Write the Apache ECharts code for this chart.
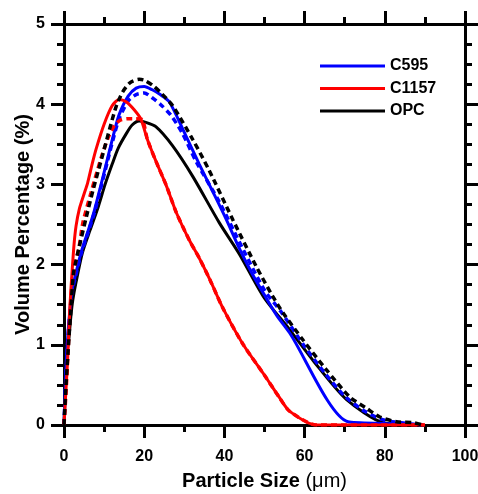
<!DOCTYPE html>
<html>
<head>
<meta charset="utf-8">
<script src="https://cdn.jsdelivr.net/npm/echarts@6/dist/echarts.min.js"></script>
<style>
html,body{margin:0;padding:0;background:#fff;}
#chart{width:478px;height:494px;}
</style>
</head>
<body>
<div id="chart"></div>
<script>
// Particle size (µm), volume percentage (%)
const xTicks = [0, 20, 40, 60, 80, 100];
const yTicks = [0, 1, 2, 3, 4, 5];
const legendNames = ['C595', 'C1157', 'OPC'];

const c595Solid = [[0,0],[0.5,0.7],[1,1.15],[1.5,1.45],[2,1.68],[3,1.9],[4.25,2.15],[6,2.42],[7.6,2.68],[9,2.95],[10.9,3.33],[12.5,3.65],[13.75,3.87],[16,4.1],[18,4.2],[20,4.22],[22,4.18],[24,4.12],[26.25,4.03],[30,3.65],[33.75,3.25],[37,2.92],[40.4,2.57],[43.75,2.2],[47,1.88],[50,1.62],[53,1.37],[56.25,1.15],[70.8,0.04],[80,0.02],[89.6,0]];
const c595Dashed = [[0,0],[0.5,0.65],[1,1.1],[2,1.65],[3,1.88],[4.25,2.13],[6,2.4],[7.6,2.65],[9,2.92],[10.9,3.3],[12.5,3.61],[13.75,3.82],[16,4.04],[18,4.12],[20,4.14],[22,4.08],[24,4.0],[26.7,3.86],[29.5,3.64],[33,3.28],[38.75,2.78],[43.75,2.28],[50,1.68],[54,1.42],[60,0.98],[65,0.65],[70,0.36],[75,0.17],[80,0.06],[89,0]];
const c1157Solid = [[0,0],[0.5,0.45],[0.9,0.81],[1.5,1.5],[2,1.9],[2.5,2.25],[3,2.48],[3.8,2.69],[5,2.88],[5.9,3.02],[7,3.25],[8,3.44],[10,3.75],[12,3.98],[13.75,4.06],[15.5,4.03],[17.5,3.93],[19.2,3.81],[20.8,3.56],[23,3.28],[25.4,3.0],[28,2.65],[31.3,2.3],[33.75,2.08],[36.5,1.8],[39.6,1.46],[44.6,1.01],[50,0.62],[53.75,0.34],[56.3,0.17],[63,0],[90,0]];
const c1157Dashed = [[0,0],[0.5,0.4],[1,0.9],[1.9,1.7],[2.8,2.0],[3.8,2.23],[4.7,2.52],[6.75,2.9],[9.25,3.33],[11,3.58],[12.5,3.73],[14,3.8],[15.8,3.82],[18,3.82],[19.5,3.81],[20.8,3.56],[23,3.28],[25.4,3.0],[28,2.65],[31.3,2.3],[33.75,2.08],[36.5,1.8],[39.6,1.46],[44.6,1.01],[50,0.62],[53.75,0.34],[56.3,0.17],[63,0],[90,0]];
const opcSolid = [[0,0],[0.3,0.4],[0.8,0.92],[1.2,1.07],[1.7,1.35],[2.2,1.56],[3,1.78],[4.6,2.15],[6.5,2.43],[8.4,2.7],[10.25,3.0],[12,3.25],[13.5,3.45],[15.5,3.63],[17,3.74],[18.75,3.79],[20,3.78],[22.9,3.72],[27.1,3.48],[32.1,3.1],[38.75,2.52],[43.75,2.13],[50,1.58],[56.25,1.19],[62.5,0.78],[70.4,0.32],[79.6,0.03],[89.6,0]];
const opcDashed = [[0,0],[0.5,0.5],[1.2,1.06],[1.6,1.35],[2.4,1.9],[3.7,2.2],[5.6,2.6],[7.2,2.92],[8.5,3.16],[9.7,3.38],[11.7,3.75],[13,3.97],[14.6,4.15],[16.5,4.27],[18.75,4.31],[20,4.3],[22,4.24],[24,4.15],[27.1,3.98],[32.1,3.56],[36.25,3.17],[42.1,2.56],[47.9,1.98],[52.1,1.6],[54.6,1.4],[59.6,1.06],[65.4,0.69],[71.25,0.35],[75.4,0.21],[78.75,0.1],[82.9,0.04],[87,0.03],[89.5,0]];

const FONT = '"Liberation Sans", Arial, sans-serif';
const chart = echarts.init(document.getElementById('chart'), null, {renderer: 'canvas'});

function axisCommon(extra) {
  return Object.assign({
    type: 'value',
    axisLine: {show: true, onZero: false, lineStyle: {color: '#000', width: 3}},
    axisTick: {show: true, inside: false, length: 13, lineStyle: {color: '#000', width: 3}},
    splitLine: {show: false},
    minorSplitLine: {show: false}
  }, extra);
}

const labelStyle = {fontFamily: FONT, fontSize: 16, fontWeight: 'bold', color: '#000'};

function line(name, data, color, dashed, width, z) {
  return {
    name: name, type: 'line', data: data, showSymbol: false, symbol: 'none',
    smooth: 0.25, z: z,
    lineStyle: {color: color, width: width, type: dashed ? [6, 4] : 'solid'},
    itemStyle: {color: color},
    xAxisIndex: 0, yAxisIndex: 0
  };
}

chart.setOption({
  animation: false,
  backgroundColor: '#fff',
  grid: {left: 64, right: 13, top: 24, bottom: 69, containLabel: false, outerBoundsMode: 'none'},
  legend: {
    data: legendNames.map(n => ({name: n, icon: 'rect'})),
    orient: 'vertical',
    left: 315, top: 53,
    itemWidth: 65, itemHeight: 3, itemGap: 6.5,
    textStyle: {fontFamily: FONT, fontSize: 16, fontWeight: 'bold', color: '#000'}
  },
  xAxis: [
    axisCommon({
      min: 0, max: 100, interval: 20, position: 'bottom',
      minorTick: {show: true, splitNumber: 2, length: 7, lineStyle: {color: '#000', width: 3}},
      axisLabel: Object.assign({margin: 24, formatter: v => (xTicks.indexOf(v) >= 0 ? String(v) : '')}, labelStyle),
      name: '{b|Particle Size }{n|(\u03bcm)}',
      nameLocation: 'middle', nameGap: 46, nameMoveOverlap: false,
      nameTextStyle: {
        rich: {
          b: {fontFamily: FONT, fontSize: 20, fontWeight: 'bold', color: '#000'},
          n: {fontFamily: FONT, fontSize: 20, fontWeight: 'normal', color: '#000'}
        }
      }
    }),
    axisCommon({
      min: 0, max: 100, interval: 20, position: 'top',
      minorTick: {show: true, splitNumber: 2, length: 7, lineStyle: {color: '#000', width: 3}},
      axisLabel: {show: false}
    })
  ],
  yAxis: [
    axisCommon({
      min: 0, max: 5, interval: 1, position: 'left',
      minorTick: {show: true, splitNumber: 4, length: 7, lineStyle: {color: '#000', width: 3}},
      axisLabel: Object.assign({margin: 19, formatter: v => (yTicks.indexOf(v) >= 0 ? String(v) : '')}, labelStyle),
      name: 'Volume Percentage (%)',
      nameLocation: 'middle', nameGap: 31, nameMoveOverlap: false,
      nameTextStyle: {fontFamily: FONT, fontSize: 20, fontWeight: 'bold', color: '#000'}
    }),
    axisCommon({
      min: 0, max: 5, interval: 1, position: 'right',
      minorTick: {show: true, splitNumber: 4, length: 7, lineStyle: {color: '#000', width: 3}},
      axisLabel: {show: false}
    })
  ],
  series: [
    line('OPC', opcSolid, '#000000', false, 3, 2),
    line('C595', c595Solid, '#0000ff', false, 3, 3),
    line('C595 d', c595Dashed, '#0000ff', true, 3.5, 4),
    line('C1157 d', c1157Dashed, '#ff0000', true, 3.5, 4),
    line('C1157', c1157Solid, '#ff0000', false, 3, 5),
    line('OPC d', opcDashed, '#000000', true, 3.5, 6)
  ]
});
</script>
</body>
</html>
